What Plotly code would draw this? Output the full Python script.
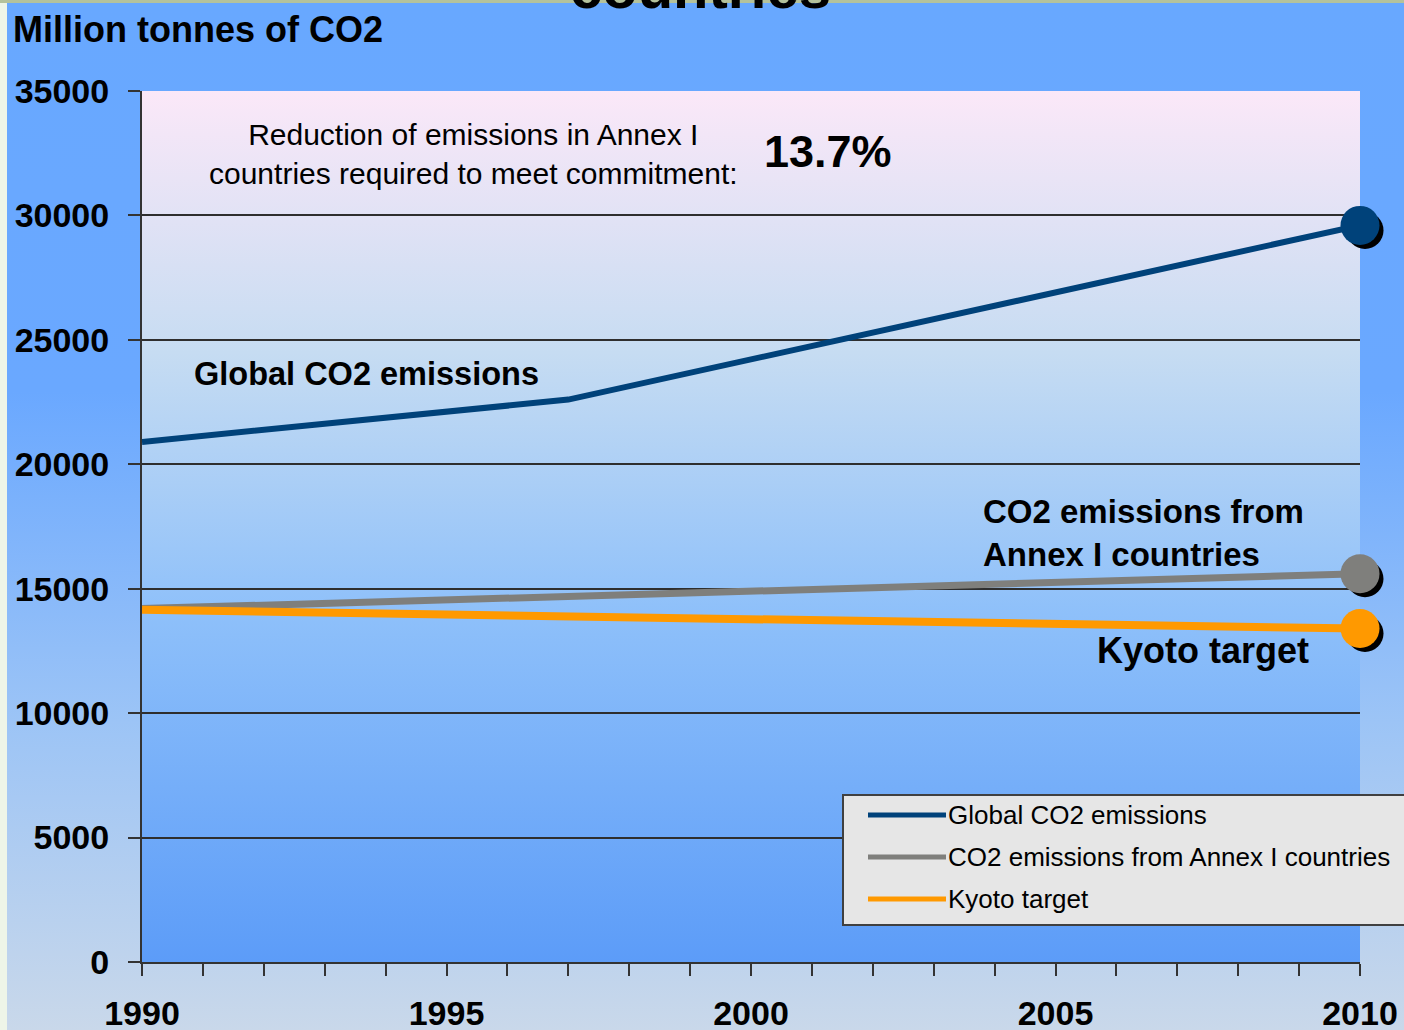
import base64

import plotly.graph_objects as go

# values
global_years = [1990, 1997, 2010]
global_co2 = [20900, 22600, 29600]
annex_years = [1990, 2010]
annex_co2 = [14200, 15600]
kyoto_years = [1990, 2010]
kyoto_target = [14150, 13400]

series_names = ['Global CO2 emissions', 'CO2 emissions from Annex I countries', 'Kyoto target']
series_colors = ['#00427a', '#7f7f7c', '#ff9900']
x_ticks = [1990, 1995, 2000, 2005, 2010]
y_ticks = [0, 5000, 10000, 15000, 20000, 25000, 30000, 35000]

reduction_text = 'Reduction of emissions in Annex I<br>countries required to meet commitment:'
reduction_pct = '13.7%'

W, H = 1404, 1030
L, R, T, B = 142, 44, 91, 68
PW, PH = W - L - R, H - T - B
FONT = 'Arial, Liberation Sans, sans-serif'
MARKER = 39


def px(xp):
    return (xp - L) / PW


def py(yp):
    return (H - B - yp) / PH


def gradient(stops):
    st = ''.join(f'<stop offset="{o}" stop-color="{c}"/>' for o, c in stops)
    svg = ('<svg xmlns="http://www.w3.org/2000/svg" width="100" height="100" viewBox="0 0 100 100" '
           'preserveAspectRatio="none"><defs><linearGradient id="g" x1="0" y1="0" x2="0" y2="1">'
           f'{st}</linearGradient></defs><rect width="100" height="100" fill="url(#g)"/></svg>')
    return 'data:image/svg+xml;base64,' + base64.b64encode(svg.encode()).decode()


fig = go.Figure()

data = [(global_years, global_co2), (annex_years, annex_co2), (kyoto_years, kyoto_target)]
widths = [6, 7, 8]
for (xs, ys), name, color, w in zip(data, series_names, series_colors, widths):
    fig.add_trace(go.Scatter(x=xs, y=ys, mode='lines', name=name,
                             line=dict(color=color, width=w), showlegend=False))
for (xs, ys), color in zip(data, series_colors):
    fig.add_trace(go.Scatter(x=[xs[-1]], y=[ys[-1]], mode='markers',
                             marker=dict(color=color, size=MARKER), cliponaxis=False,
                             showlegend=False))

images = [
    dict(source=gradient([(0, '#68a8ff'), (0.38, '#6aa8ff'), (0.7, '#9cc4f6'), (1, '#c9d8ea')]),
         xref='paper', yref='paper', x=px(0), y=py(0), sizex=W / PW, sizey=H / PH,
         sizing='stretch', xanchor='left', yanchor='top', layer='below'),
    dict(source=gradient([(0, '#fbe8f8'), (0.3, '#c6dcf2'), (0.6, '#8ec0fa'), (1, '#5c9cf8')]),
         xref='paper', yref='paper', x=0, y=1, sizex=1, sizey=1,
         sizing='stretch', xanchor='left', yanchor='top', layer='below'),
]

shapes = [
    dict(type='rect', xref='paper', yref='paper', x0=px(0), x1=px(7), y0=py(H), y1=py(0),
         fillcolor='#eef5e8', line=dict(width=0), layer='below'),
    dict(type='rect', xref='paper', yref='paper', x0=px(0), x1=px(W), y0=py(3), y1=py(0),
         fillcolor='#b4c29c', line=dict(width=0), layer='below'),
    # legend box
    dict(type='rect', xref='paper', yref='paper', x0=px(843), x1=px(W + 20), y0=py(925), y1=py(795),
         fillcolor='#e6e6e6', line=dict(color='#404040', width=2), layer='above'),
]

# drop shadow behind the end markers (pixel-sized circles anchored at the end points)
xr = (x_ticks[0], x_ticks[-1])
yr = (y_ticks[0], y_ticks[-1])
off, rad = 5, MARKER / 2 - 1
for xs, ys in data:
    ax = (xs[-1] - xr[0]) / (xr[1] - xr[0])
    ay = (ys[-1] - yr[0]) / (yr[1] - yr[0])
    shapes.append(dict(type='circle', xref='paper', yref='paper', xsizemode='pixel', ysizemode='pixel',
                       xanchor=ax, yanchor=ay, x0=off - rad, x1=off + rad, y0=-off - rad, y1=-off + rad,
                       fillcolor='black', line=dict(width=0), layer='below'))

annotations = [
    dict(text='countries', xref='paper', yref='paper', x=px(700), y=py(-12), showarrow=False,
         xanchor='center', yanchor='middle', font=dict(family=FONT, size=58, color='black', weight='bold')),
    dict(text='Million tonnes of CO2', xref='paper', yref='paper', x=px(11), y=py(30), showarrow=False,
         xanchor='left', yanchor='middle', font=dict(family=FONT, size=36, color='black', weight='bold')),
    dict(text=reduction_text, xref='paper', yref='paper', x=px(473), y=py(154), showarrow=False,
         xanchor='center', yanchor='middle', align='center',
         font=dict(family=FONT, size=30, color='black')),
    dict(text=reduction_pct, xref='paper', yref='paper', x=px(762), y=py(152), showarrow=False,
         xanchor='left', yanchor='middle', font=dict(family=FONT, size=45, color='black', weight='bold')),
    dict(text='Global CO2 emissions', xref='paper', yref='paper', x=px(192), y=py(374), showarrow=False,
         xanchor='left', yanchor='middle', font=dict(family=FONT, size=32.5, color='black', weight='bold')),
    dict(text='CO2 emissions from<br>Annex I countries', xref='paper', yref='paper', x=px(981), y=py(533),
         showarrow=False, xanchor='left', yanchor='middle', align='left',
         font=dict(family=FONT, size=33, color='black', weight='bold')),
    dict(text='Kyoto target', xref='paper', yref='paper', x=px(1095), y=py(650), showarrow=False,
         xanchor='left', yanchor='middle', font=dict(family=FONT, size=36, color='black', weight='bold')),
]

# hand-made legend
for i, (name, color) in enumerate(zip(series_names, series_colors)):
    yl = 815 + 42 * i
    shapes.append(dict(type='line', xref='paper', yref='paper', x0=px(868), x1=px(946), y0=py(yl), y1=py(yl),
                       line=dict(color=color, width=5), layer='above'))
    annotations.append(dict(text=name, xref='paper', yref='paper', x=px(946), y=py(yl), showarrow=False,
                            xanchor='left', yanchor='middle',
                            font=dict(family=FONT, size=26, color='black')))

fig.update_layout(
    width=W, height=H, autosize=False,
    margin=dict(l=L, r=R, t=T, b=B, pad=0, autoexpand=False),
    paper_bgcolor='#6aa8ff', plot_bgcolor='rgba(0,0,0,0)',
    images=images, shapes=shapes, annotations=annotations,
    showlegend=False,
)
fig.update_xaxes(
    range=list(xr), tickvals=x_ticks, ticktext=[str(t) for t in x_ticks],
    automargin=False,
    showgrid=False, zeroline=False, showline=True, linecolor='#333333', linewidth=2,
    ticks='outside', ticklen=12, tickwidth=2, tickcolor='#333333', ticklabelstandoff=8,
    minor=dict(dtick=1, ticks='outside', ticklen=12, tickwidth=2, tickcolor='#333333', showgrid=False),
    tickfont=dict(family=FONT, size=34, color='black', weight='bold'),
)
fig.update_yaxes(
    range=list(yr), tickvals=y_ticks, tickformat='d',
    automargin=False,
    showgrid=True, gridcolor='#2e2e2e', gridwidth=2, zeroline=False,
    showline=True, linecolor='#333333', linewidth=2,
    ticks='outside', ticklen=12, tickwidth=2, tickcolor='#333333', ticklabelstandoff=12,
    tickfont=dict(family=FONT, size=34, color='black', weight='bold'),
)

# drop the default page margin so the figure sits at the window's corner
fig.write_html('out.html', config={'displayModeBar': False},
               post_script="document.body.style.margin='0';document.body.style.overflow='hidden';")
